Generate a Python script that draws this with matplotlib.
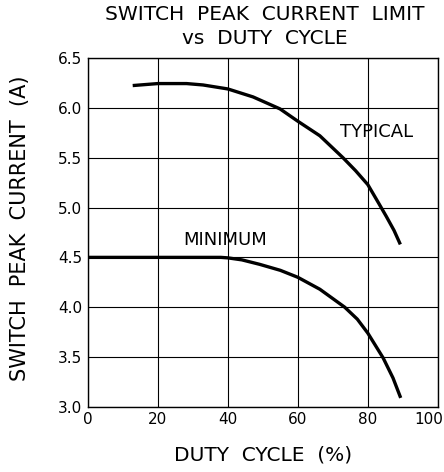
import matplotlib
matplotlib.use("Agg")
import matplotlib.pyplot as plt
import matplotlib.transforms as mtransforms

# values
typ_duty = [12.8, 20, 28.2, 32.9, 40, 47.2, 54.9, 60, 66.3, 72.9, 76.5, 80, 83, 85.3, 87.5, 89.3]
typ_amps = [6.224, 6.244, 6.244, 6.23, 6.19, 6.11, 5.99, 5.866, 5.72, 5.5, 5.37, 5.23, 5.05, 4.91, 4.77, 4.63]
min_duty = [0, 20, 38, 40, 44, 49.1, 55, 60, 66.3, 73.4, 77, 80, 84.4, 87.2, 89.4]
min_amps = [4.5, 4.5, 4.5, 4.495, 4.475, 4.43, 4.37, 4.30, 4.18, 4.0, 3.88, 3.74, 3.49, 3.29, 3.09]

xticks = [0, 20, 40, 60, 80, 100]
yticks = [3.0, 3.5, 4.0, 4.5, 5.0, 5.5, 6.0, 6.5]

plt.rcParams['font.family'] = ['DejaVu Sans']

fig = plt.figure(figsize=(4.44, 4.72), dpi=100)
ax = fig.add_axes([0.198, 0.138, 0.788, 0.739])

ax.plot(typ_duty, typ_amps, '-', color='black', lw=2.4, solid_capstyle='butt',
        solid_joinstyle='round')
ax.plot(min_duty, min_amps, '-', color='black', lw=2.4, solid_capstyle='butt',
        solid_joinstyle='round')

ax.set_xlim(0, 100)
ax.set_ylim(3.0, 6.5)
ax.set_xticks(xticks)
ax.set_yticks(yticks)
ax.set_xticklabels([str(t) for t in xticks])
ax.set_yticklabels(["%.1f" % t for t in yticks])
ax.tick_params(length=0, labelsize=11, pad=4)
last = ax.get_xticklabels()[-1]
last.set_ha('right')
last.set_transform(last.get_transform() +
                   mtransforms.ScaledTranslation(5 / 100, 0, fig.dpi_scale_trans))
ax.grid(True, color='black', lw=0.8)
for s in ax.spines.values():
    s.set_linewidth(1.0)

ax.text(82.6, 5.76, "TYPICAL", ha='center', va='center', fontsize=13)
ax.text(39.3, 4.675, "MINIMUM", ha='center', va='center', fontsize=13)

ax.set_xlabel("DUTY  CYCLE  (%)", fontsize=14.5, va='center')
ax.xaxis.set_label_coords(0.5, -0.1375)
ax.set_ylabel("SWITCH  PEAK  CURRENT  (A)", fontsize=15, va='center')
ax.yaxis.set_label_coords(-0.194, 0.513)
fig.text(0.597, 1 - 14.5 / 472, "SWITCH  PEAK  CURRENT  LIMIT", ha='center',
         va='center', fontsize=14.5)
fig.text(0.597, 1 - 38.5 / 472, "vs  DUTY  CYCLE", ha='center', va='center',
         fontsize=14.5)

fig.savefig("out.png", dpi=100)
